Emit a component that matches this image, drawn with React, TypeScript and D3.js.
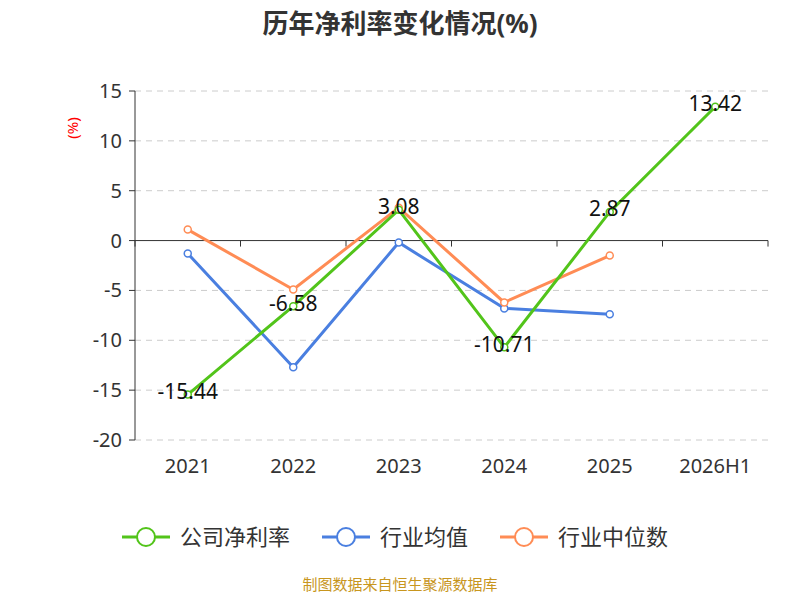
import React from "react";
import * as d3 from "d3";

const categories = ["2021", "2022", "2023", "2024", "2025", "2026H1"];
const company = [-15.44, -6.58, 3.08, -10.71, 2.87, 13.42];
const industryAvg = [-1.3, -12.7, -0.2, -6.8, -7.4];
const industryMedian = [1.1, -4.9, 3.3, -6.2, -1.5];
const yTicks = [15, 10, 5, 0, -5, -10, -15, -20];

const green = "#52c41a", blue = "#4a7fe0", orange = "#ff8c55";
const font = "'Noto Sans', 'Noto Sans CJK SC', sans-serif";

export default function App() {
  const x = d3.scaleBand().domain(categories).range([135, 768]);
  const y = d3.scaleLinear().domain([-20, 15]).range([440, 91]);
  const cx = (i: number) => x(categories[i])! + x.bandwidth() / 2;
  const line = d3.line<number>().x((_, i) => cx(i)).y((d) => y(d));
  const series = [
    { data: industryAvg, color: blue },
    { data: industryMedian, color: orange },
    { data: company, color: green },
  ];
  const legend = [
    { name: "公司净利率", color: green, x: 122 },
    { name: "行业均值", color: blue, x: 322 },
    { name: "行业中位数", color: orange, x: 500 },
  ];
  return (
    <svg width={800} height={600} style={{ position: "absolute", left: 0, top: 0 }} fontFamily={font}>
      <rect width={800} height={600} fill="#fff" />
      <text x={400} y={33} textAnchor="middle" fontSize={26} fontWeight="bold" fill="#333">历年净利率变化情况(%)</text>
      <text x={78} y={128} fontSize={15} fill="red" textAnchor="middle" transform="rotate(-90 78 128)">(%)</text>
      {yTicks.map((t) => (
        <g key={t}>
          {t !== 0 && <line x1={135} x2={768} y1={y(t)} y2={y(t)} stroke="#ccc" strokeDasharray="6,5" />}
          <line x1={129} x2={135} y1={y(t)} y2={y(t)} stroke="#333" />
          <text x={122} y={y(t)} dy="0.35em" textAnchor="end" fontSize={20} fill="#333">{t}</text>
        </g>
      ))}
      <line x1={135} x2={135} y1={91} y2={440} stroke="#333" />
      <line x1={135} x2={768} y1={y(0)} y2={y(0)} stroke="#333" />
      {d3.range(categories.length + 1).map((i) => {
        const xx = 135 + i * x.bandwidth();
        return <line key={i} x1={xx} x2={xx} y1={y(0)} y2={y(0) + 6} stroke="#333" />;
      })}
      {categories.map((c, i) => (
        <text key={c} x={cx(i)} y={473} textAnchor="middle" fontSize={20} fill="#333">{c}</text>
      ))}
      {series.map((s, k) => (
        <g key={k}>
          <path d={line(s.data)!} fill="none" stroke={s.color} strokeWidth={3} />
          {s.data.map((v, i) => (
            <circle key={i} cx={cx(i)} cy={y(v)} r={3.5} fill="#fff" stroke={s.color} strokeWidth={1.5} />
          ))}
        </g>
      ))}
      {company.map((v, i) => (
        <text key={i} x={cx(i)} y={y(v) - 3} dy="0.35em" textAnchor="middle" fontSize={21} fill="#111">{v.toFixed(2)}</text>
      ))}
      {legend.map((l) => (
        <g key={l.name}>
          <line x1={l.x} x2={l.x + 48} y1={537} y2={537} stroke={l.color} strokeWidth={3} />
          <circle cx={l.x + 24} cy={537} r={9} fill="#fff" stroke={l.color} strokeWidth={2} />
          <text x={l.x + 58} y={537} dy="0.35em" fontSize={22} fill="#333">{l.name}</text>
        </g>
      ))}
      <text x={400} y={590} textAnchor="middle" fontSize={15} fill="#c8961e">制图数据来自恒生聚源数据库</text>
    </svg>
  );
}
